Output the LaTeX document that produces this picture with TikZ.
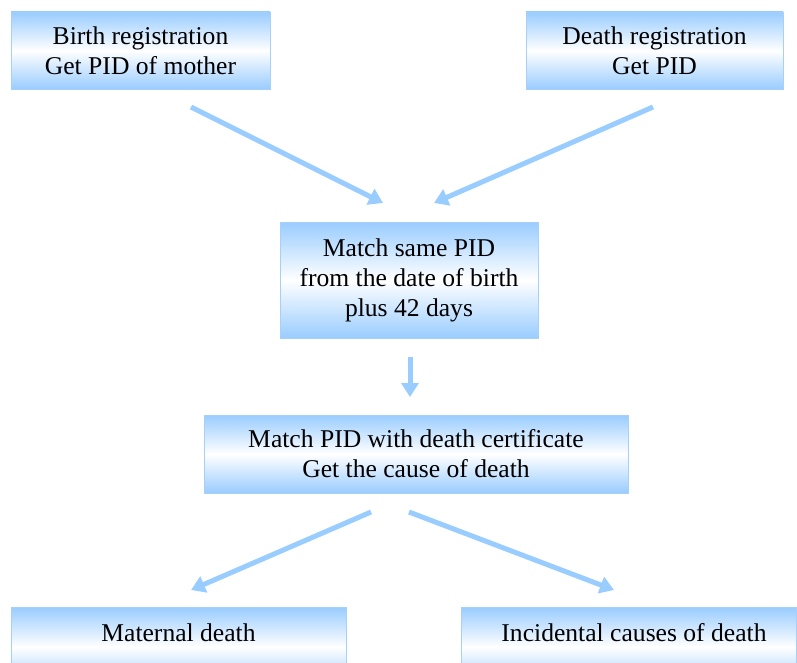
\documentclass[tikz,border=0pt]{standalone}
\usepackage{fontspec}
\setmainfont{Liberation Serif}
\usetikzlibrary{arrows.meta}
\definecolor{boxblue}{HTML}{99CCFF}
\definecolor{edgeblue}{HTML}{A6D0FA}
\definecolor{arrblue}{HTML}{99CCFF}
\tikzset{
  box/.style={draw=edgeblue, line width=0.8pt, top color=boxblue, bottom color=boxblue, middle color=white,
    align=center, font=\fontsize{25.6}{30}\selectfont, inner sep=0pt},
  txt/.style={align=center, font=\fontsize{25.6}{30}\selectfont, inner sep=0pt},
  flow/.style={draw=arrblue, line width=5pt, -{Triangle[width=17pt,length=14pt]}}
}
\begin{document}
\begin{tikzpicture}[x=1pt,y=-1pt]
\useasboundingbox (0,0) rectangle (797,663);
\clip (0,0) rectangle (797,663);
\node[box, minimum width=259pt, minimum height=77pt] (birth) at (140.5,50.5) {Birth registration\\Get PID of mother};
\node[box, minimum width=257pt, minimum height=77pt] (death) at (654.5,50.5) {Death registration\\Get PID};
\node[box, minimum width=258pt, minimum height=116pt] (match) at (409,280) {Match same PID\\from the date of birth\\plus 42 days};
\node[box, minimum width=424pt, minimum height=78pt] (cert) at (416,454) {Match PID with death certificate\\Get the cause of death};
\node[box, minimum width=335pt, minimum height=80pt] (mat) at (178.5,647) {};
\node[txt] (mattxt) at (178.5,633) {Maternal death};
\node[box, minimum width=335pt, minimum height=80pt] (inc) at (628.5,647) {};
\node[txt] (inctxt) at (634,633) {Incidental causes of death};
\coordinate (b1) at (191,107);
\coordinate (b2) at (383,203);
\coordinate (d1) at (653,107);
\coordinate (d2) at (434,203);
\coordinate (m1) at (410,357);
\coordinate (m2) at (410,397);
\coordinate (c1) at (371,512);
\coordinate (c2) at (191,590);
\coordinate (c3) at (409,512);
\coordinate (c4) at (614,590);
\draw[flow] (b1) -- (b2);
\draw[flow] (d1) -- (d2);
\draw[flow] (m1) -- (m2);
\draw[flow] (c1) -- (c2);
\draw[flow] (c3) -- (c4);
\end{tikzpicture}
\end{document}
